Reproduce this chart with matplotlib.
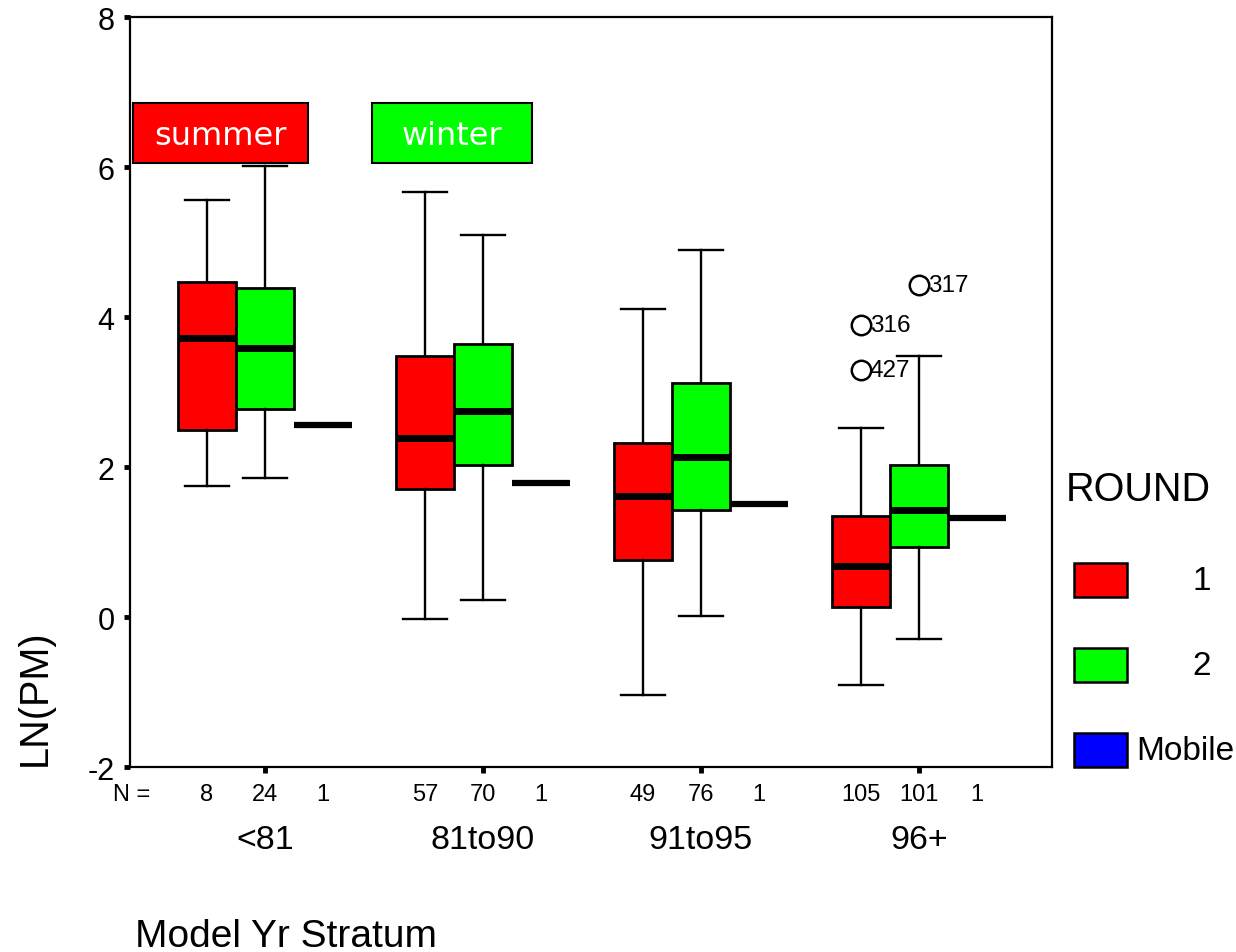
import matplotlib
matplotlib.use("Agg")
import matplotlib.pyplot as plt
from matplotlib.patches import Rectangle

plt.rcParams['font.family'] = ['Liberation Sans', 'DejaVu Sans']
plt.rcParams['axes.unicode_minus'] = False

# data
strata = ['<81', '81to90', '91to95', '96+']
n_round1 = [8, 57, 49, 105]
n_round2 = [24, 70, 76, 101]
n_mobile = [1, 1, 1, 1]

# whislo, q1, med, q3, whishi
round1 = [[1.75, 2.49, 3.72, 4.47, 5.56],
          [-0.03, 1.71, 2.39, 3.48, 5.67],
          [-1.04, 0.76, 1.61, 2.32, 4.11],
          [-0.91, 0.13, 0.68, 1.35, 2.52]]
round2 = [[1.85, 2.77, 3.59, 4.39, 6.01],
          [0.23, 2.03, 2.75, 3.64, 5.09],
          [0.01, 1.43, 2.13, 3.12, 4.89],
          [-0.29, 0.93, 1.43, 2.03, 3.48]]
mobile = [2.56, 1.79, 1.51, 1.32]

# outliers: (group, round, value, case id)
out_group = [3, 3, 3]
out_round = [1, 1, 2]
out_value = [3.89, 3.29, 4.43]
out_id = ['316', '427', '317']

colors = {1: '#ff0000', 2: '#00ff00', 'Mobile': '#0000ff'}
off = 0.266
bw = 0.266

fig = plt.figure(figsize=(12.36, 9.53), dpi=100)
ax = fig.add_axes([0.1052, 0.1941, 0.7459, 0.787])

def stats(vals):
    return [dict(whislo=v[0], q1=v[1], med=v[2], q3=v[3], whishi=v[4], fliers=[]) for v in vals]

pos = list(range(1, len(strata) + 1))
for vals, shift, col in [(round1, -off, colors[1]), (round2, 0, colors[2])]:
    ax.bxp(stats(vals), positions=[p + shift for p in pos], widths=bw,
           patch_artist=True, capwidths=0.2, showfliers=False,
           boxprops=dict(facecolor=col, edgecolor='black', linewidth=2),
           medianprops=dict(color='black', linewidth=5),
           whiskerprops=dict(color='black', linewidth=1.7),
           capprops=dict(color='black', linewidth=1.7))

ax.hlines(mobile, [p + off - bw / 2 for p in pos], [p + off + bw / 2 for p in pos],
          color='black', linewidth=4.5)

for g, r, v, lab in zip(out_group, out_round, out_value, out_id):
    x = pos[g] + (-off if r == 1 else 0)
    ax.plot(x, v, 'o', ms=14, mfc='white', mec='black', mew=1.8, zorder=4)
    ax.text(x + 0.04, v, lab, fontsize=17.5, va='center', ha='left', zorder=5)

ax.set_xlim(0.381, 4.61)
ax.set_ylim(-2, 8)
ax.set_yticks([-2, 0, 2, 4, 6, 8])
ax.set_yticklabels(['-2', '0', '2', '4', '6', '8'], fontsize=22)
ax.set_xticks(pos)
ax.set_xticklabels([])
ax.tick_params(axis='both', direction='out', length=4, width=3.5, pad=7)
for s in ax.spines.values():
    s.set_linewidth(1.6)

# season labels
for x0, x1, txt, col in [(0.394, 1.197, 'summer', colors[1]), (1.491, 2.225, 'winter', colors[2])]:
    ax.add_patch(Rectangle((x0, 6.05), x1 - x0, 0.8, facecolor=col, edgecolor='black',
                           linewidth=1.5, zorder=3))
    ax.text((x0 + x1) / 2, 6.42, txt, color='white', fontsize=23, ha='center', va='center',
            family='DejaVu Sans', zorder=4)

# N row and category labels
tr = ax.get_xaxis_transform()
ax.text(0.39, -0.036, 'N =', transform=tr, fontsize=17, ha='center', va='center')
for p, a, b, c, name in zip(pos, n_round1, n_round2, n_mobile, strata):
    for dx, n in [(-off, a), (0, b), (off, c)]:
        ax.text(p + dx, -0.036, str(n), transform=tr, fontsize=17, ha='center', va='center')
    ax.text(p, -0.097, name, transform=tr, fontsize=24.5, ha='center', va='center')

fig.text(135 / 1236, 1 - 937 / 953, 'Model Yr Stratum', fontsize=28, ha='left', va='center')
fig.text(35 / 1236, 1 - 698 / 953, 'LN(PM)', fontsize=28.5, rotation=90, ha='center', va='center')

# legend
fig.text(1066 / 1236, 1 - 490 / 953, 'ROUND', fontsize=28.5, ha='left', va='center')
leg_labels = ['1', '2', 'Mobile']
leg_keys = [1, 2, 'Mobile']
for i, (k, lab) in enumerate(zip(leg_keys, leg_labels)):
    ytop = 564 + i * 85
    fig.add_artist(Rectangle((1074 / 1236, 1 - (ytop + 34) / 953), 53 / 1236, 34 / 953,
                             transform=fig.transFigure, facecolor=colors[k], edgecolor='black', linewidth=1.8))
    if lab == 'Mobile':
        fig.text(1136 / 1236, 1 - (ytop + 18) / 953, lab, fontsize=24, ha='left', va='center')
    else:
        fig.text(1202 / 1236, 1 - (ytop + 18) / 953, lab, fontsize=24, ha='center', va='center')

fig.savefig('out.png', dpi=100)
